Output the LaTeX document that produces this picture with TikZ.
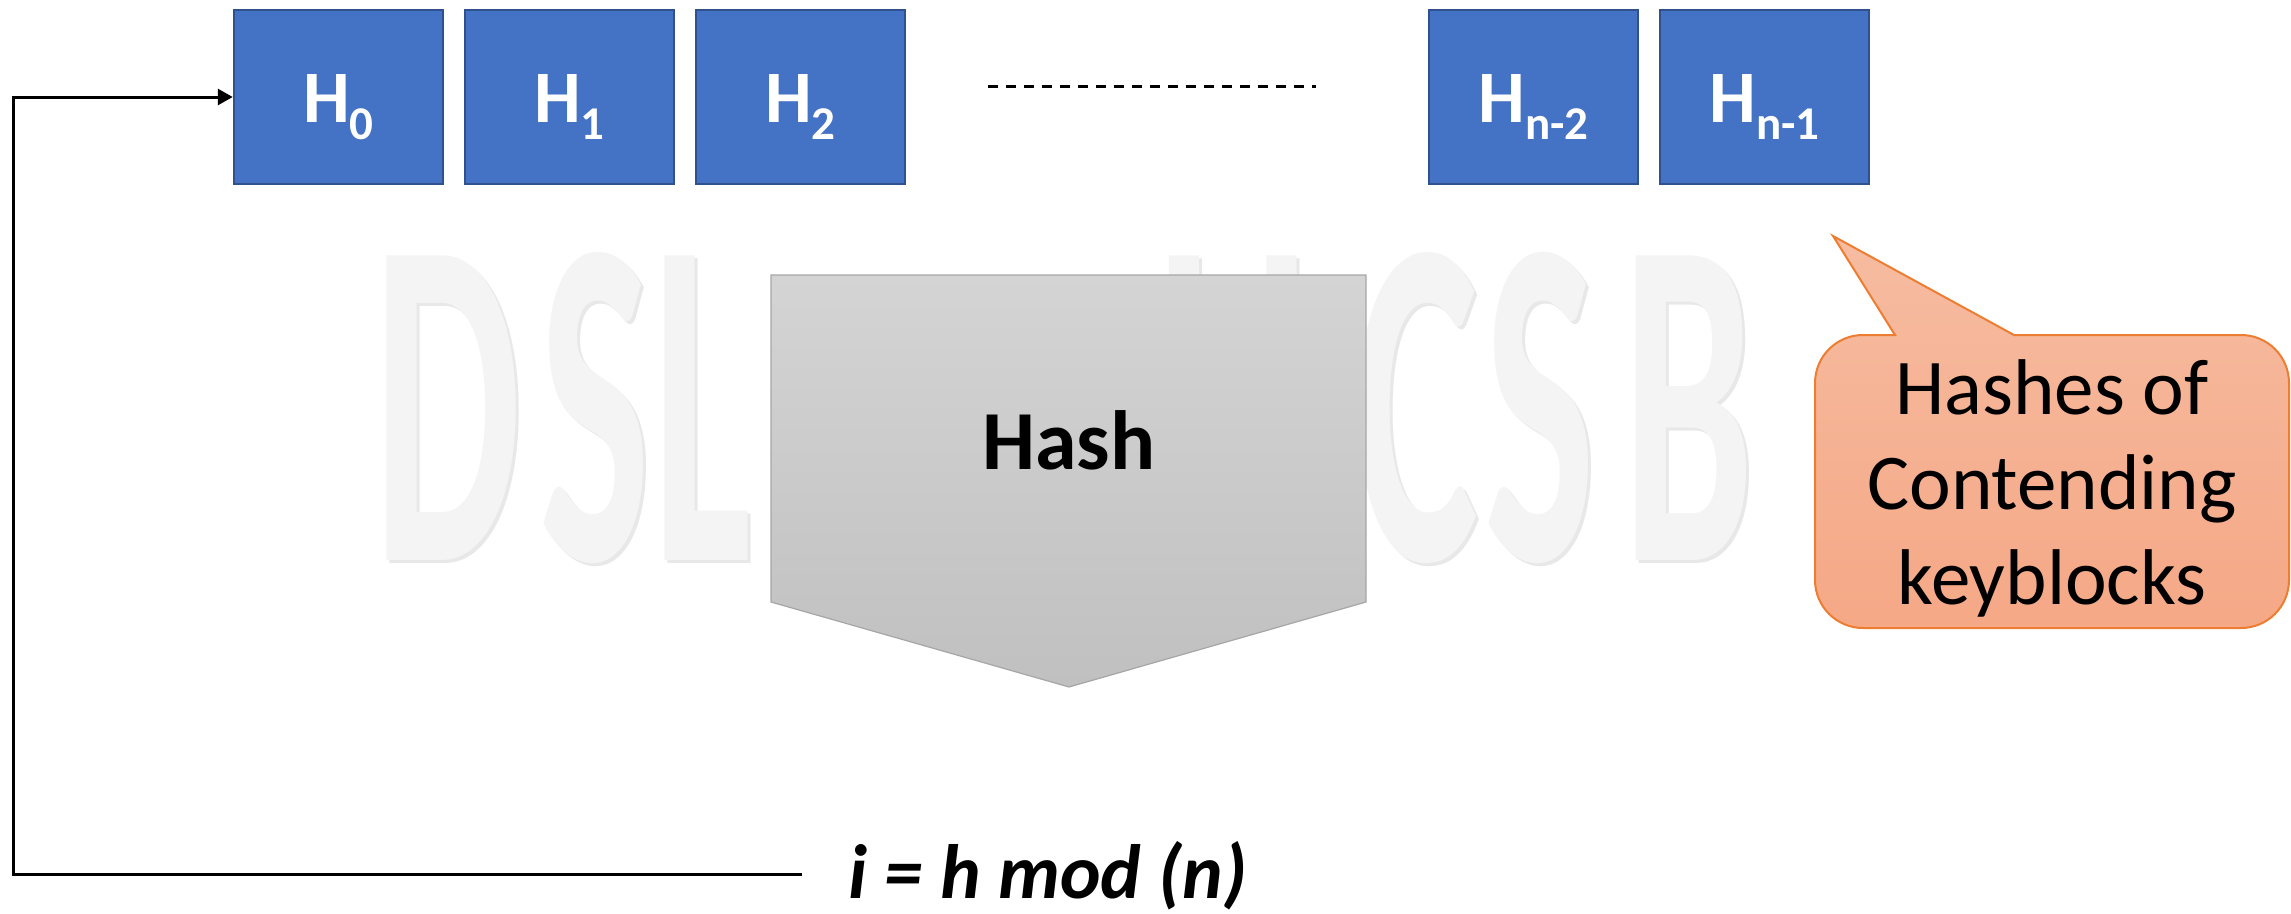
\documentclass[tikz,border=0pt]{standalone}
\usepackage{fontspec}
\setmainfont{Carlito}
\usetikzlibrary{arrows.meta}
\definecolor{boxblue}{HTML}{4472C4}
\definecolor{boxedge}{HTML}{2F528F}
\definecolor{hashtop}{HTML}{D4D4D4}
\definecolor{hashbot}{HTML}{C0C0C0}
\definecolor{hashedge}{HTML}{A6A6A6}
\definecolor{calltop}{HTML}{F6BCA1}
\definecolor{callbot}{HTML}{F5A886}
\definecolor{calledge}{HTML}{ED7D31}
\definecolor{wmark}{HTML}{F4F4F4}
\definecolor{wshadow}{HTML}{E8E8E8}
\newcommand\Hsub[1]{\raisebox{-17pt}{\fontsize{47}{47}\selectfont #1}}
\newcommand\WMfont{\fontsize{470}{470}\selectfont\bfseries}
\begin{document}
\begin{tikzpicture}[x=1pt,y=-1pt,
  hbox/.style={draw=boxedge, line width=2.5pt, fill=boxblue, minimum width=209pt,
    minimum height=174pt, inner sep=0pt, text=white,
    font=\fontsize{74}{74}\selectfont\bfseries, text height=50pt, text depth=0pt},
  conn/.style={line width=3pt, draw=black},
  wm/.style={text=wmark, font=\WMfont, inner sep=0pt, anchor=base},
  wms/.style={text=wshadow, font=\WMfont, inner sep=0pt, anchor=base},
  hashshape/.style={top color=hashtop, bottom color=hashbot, draw=hashedge, line width=1.2pt},
  callshape/.style={top color=calltop, bottom color=callbot, draw=calledge, line width=2pt},
]
\useasboundingbox (0,0) rectangle (2291,913);

% watermark
\foreach \c/\x [count=\i] in {D/448,S/595,L/702,U/1233,C/1417,S/1540,B/1688}{
  \node[wms] (wms\i) at (\x+3,563) {\scalebox{0.5}[1]{\c}};
  \node[wm] (wm\i) at (\x,560) {\scalebox{0.5}[1]{\c}};
}

% hash blocks
\node[hbox] (h0) at (338.5,97) {H\Hsub{0}};
\node[hbox] (h1) at (569.5,97) {H\Hsub{1}};
\node[hbox] (h2) at (800.5,97) {H\Hsub{2}};
\node[hbox] (hn2) at (1533.5,97) {H\Hsub{n-2}};
\node[hbox] (hn1) at (1764.5,97) {H\Hsub{n-1}};

% ellipsis dashes
\coordinate (dl) at (988,86);
\coordinate (dr) at (1316,86);
\draw[line width=3pt, dash pattern=on 10pt off 8pt] (dl) -- (dr);

% Hash arrow shape
\path[hashshape] (771,275) -- (1366,275) -- (1366,602) -- (1069,687) -- (771,602) -- cycle;
\node[font=\fontsize{84}{84}\selectfont\bfseries, inner sep=0pt, anchor=base] (hash) at (1069,469) {Hash};

% callout
\path[callshape] (1895,335) -- (1833,236) -- (2014,335) -- (2241,335)
  .. controls (2267.5,335) and (2289,356.5) .. (2289,383) -- (2289,580)
  .. controls (2289,606.5) and (2267.5,628) .. (2241,628) -- (1863,628)
  .. controls (1836.5,628) and (1815,606.5) .. (1815,580) -- (1815,383)
  .. controls (1815,356.5) and (1836.5,335) .. (1863,335) -- cycle;
\node[font=\fontsize{79}{95}\selectfont, align=center, inner sep=0pt] (calltext) at (2052,488)
  {Hashes of\\Contending\\keyblocks};

% formula and feedback connector
\node[font=\fontsize{77}{77}\selectfont\bfseries\itshape, inner sep=0pt, anchor=base west] (modtext) at (848,898) {i = h mod (n)};
\coordinate (loopend) at (802,874);
\coordinate (loopcorner) at (13,97);
\draw[conn, -{Triangle[length=15pt,width=16pt]}] (loopend) -| (loopcorner) -- (h0.west);
\end{tikzpicture}
\end{document}
